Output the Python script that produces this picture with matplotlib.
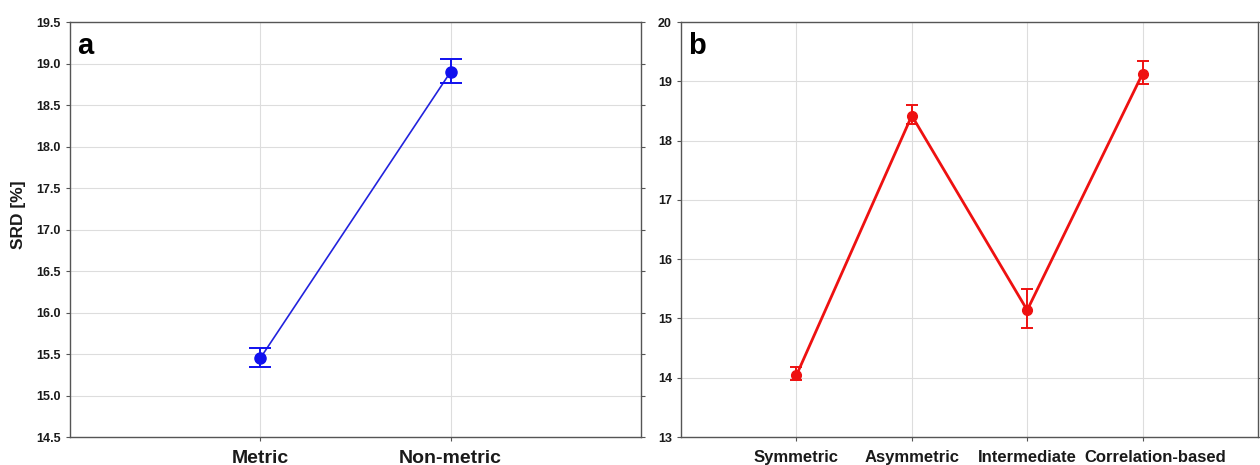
import matplotlib
matplotlib.use("Agg")
import matplotlib.pyplot as plt
import matplotlib.transforms as mtransforms
import numpy as np

plt.rcParams['font.family'] = ['Liberation Sans', 'DejaVu Sans']

# Panel a data
cats_a = ["Metric", "Non-metric"]
mean_a = [15.45, 18.90]
low_a = [15.34, 18.77]
high_a = [15.57, 19.06]
yticks_a = [14.5, 15.0, 15.5, 16.0, 16.5, 17.0, 17.5, 18.0, 18.5, 19.0, 19.5]

# Panel b data
cats_b = ["Symmetric", "Asymmetric", "Intermediate", "Correlation-based"]
mean_b = [14.04, 18.42, 15.14, 19.13]
low_b = [13.96, 18.28, 14.84, 18.96]
high_b = [14.18, 18.60, 15.50, 19.35]
yticks_b = [13, 14, 15, 16, 17, 18, 19, 20]

fig = plt.figure(figsize=(12.6, 4.65), dpi=100)
ax1 = fig.add_axes([70/1260, 28/465, (641-70)/1260, (437-22)/465])
ax2 = fig.add_axes([681/1260, 28/465, (1258-681)/1260, (437-22)/465])

frame_c = "#555555"
grid_c = "#dddddd"
text_c = "#1a1a1a"

def style(ax):
    for s in ax.spines.values():
        s.set_color(frame_c)
        s.set_linewidth(1.0)
    ax.grid(True, color=grid_c, linewidth=0.8)
    ax.set_axisbelow(True)
    ax.tick_params(axis='both', direction='out', length=3, width=0.8, color=frame_c,
                   right=True, labelright=False)
    ax.tick_params(axis='x', pad=6)

# Panel a
xa = np.arange(len(cats_a))
ma = np.array(mean_a)
ea = np.vstack([ma - np.array(low_a), np.array(high_a) - ma])
ax1.plot(xa, ma, color="#2222dd", linewidth=1.2, zorder=3)
ax1.errorbar(xa, ma, yerr=ea, fmt='o', color="#1010ee", markersize=8, capsize=8,
             elinewidth=1.4, capthick=1.4, zorder=4)
ax1.set_xlim(-1, 2)
ax1.set_ylim(14.5, 19.5)
ax1.set_yticks(yticks_a)
ax1.set_yticklabels([f"{v:.1f}" for v in yticks_a], fontsize=9, fontweight='bold', color=text_c)
ax1.set_xticks(xa)
ax1.set_xticklabels(cats_a, fontsize=14, fontweight='bold', color=text_c)
ax1.set_ylabel("SRD [%]", fontsize=12.5, fontweight='bold', color=text_c)
ax1.yaxis.set_label_coords(-0.077, 0.535)
style(ax1)
ax1.text(0.013, 0.975, "a", transform=ax1.transAxes, fontsize=21, fontweight='bold',
         va='top', ha='left')

# Panel b
xb = np.arange(len(cats_b))
mb = np.array(mean_b)
eb = np.vstack([mb - np.array(low_b), np.array(high_b) - mb])
ax2.plot(xb, mb, color="#ee1111", linewidth=2.0, zorder=3)
ax2.errorbar(xb, mb, yerr=eb, fmt='o', color="#ee1111", markersize=7, capsize=4,
             elinewidth=1.4, capthick=1.4, zorder=4)
ax2.set_xlim(-1, 4)
ax2.set_ylim(13, 20)
ax2.set_yticks(yticks_b)
ax2.set_yticklabels([str(v) for v in yticks_b], fontsize=9, fontweight='bold', color=text_c)
ax2.set_xticks(xb)
ax2.set_xticklabels(cats_b, fontsize=12, fontweight='bold', color=text_c)
style(ax2)
# shift the last category label to the right as in the original
lbl = ax2.get_xticklabels()[-1]
lbl.set_transform(lbl.get_transform() + mtransforms.ScaledTranslation(13/100, 0, fig.dpi_scale_trans))
ax2.text(0.012, 0.975, "b", transform=ax2.transAxes, fontsize=21, fontweight='bold',
         va='top', ha='left')

fig.savefig("out.png", dpi=100)
